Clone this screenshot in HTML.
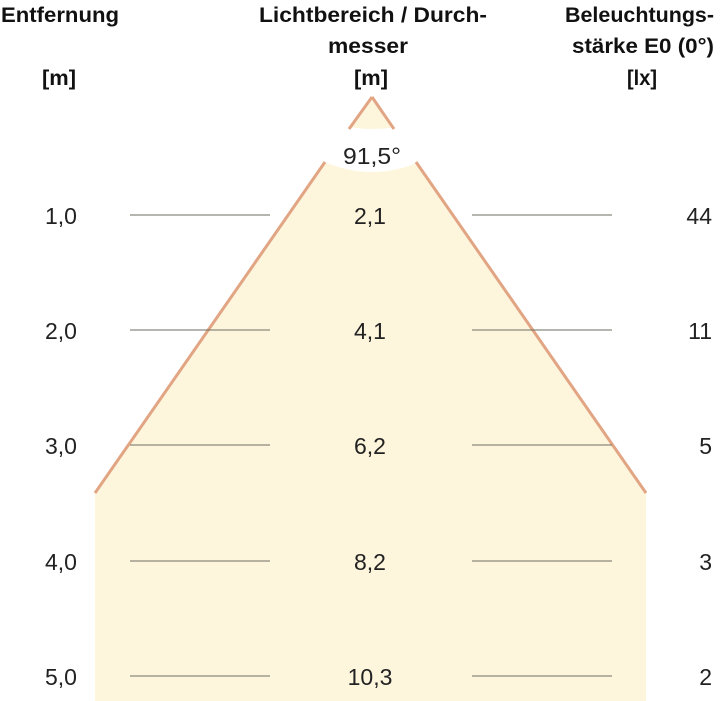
<!DOCTYPE html>
<html><head><meta charset="utf-8"><style>body{margin:0;background:#fff}svg{display:block}</style></head>
<body>
<svg width="720" height="701" xmlns="http://www.w3.org/2000/svg" font-family="Liberation Sans, Arial, sans-serif">
<polygon points="372,97 95,493 95,701 646,701 646,493" fill="#fdf5dc"/>
<path d="M320,119 Q372,139 424,119 L424,160 Q372,184 320,160 Z" fill="#fff"/>
<g stroke="#e2a584" stroke-width="3" fill="none">
<line x1="372" y1="97" x2="349" y2="129"/>
<line x1="372" y1="97" x2="394" y2="129"/>
<line x1="325" y1="162" x2="95" y2="493"/>
<line x1="416" y1="162" x2="646" y2="493"/>
</g>
<g stroke="#6e6e62" stroke-width="1">
<line x1="130" y1="215" x2="270" y2="215"/><line x1="472" y1="215" x2="612" y2="215"/>
<line x1="130" y1="330" x2="270" y2="330"/><line x1="472" y1="330" x2="612" y2="330"/>
<line x1="130" y1="445" x2="270" y2="445"/><line x1="472" y1="445" x2="612" y2="445"/>
<line x1="130" y1="561" x2="270" y2="561"/><line x1="472" y1="561" x2="612" y2="561"/>
<line x1="130" y1="676" x2="270" y2="676"/><line x1="472" y1="676" x2="612" y2="676"/>
</g>
<g font-weight="bold" font-size="21" fill="#111">
<text x="1" y="22" textLength="118" lengthAdjust="spacingAndGlyphs">Entfernung</text>
<text x="42" y="85" textLength="34" lengthAdjust="spacingAndGlyphs">[m]</text>
<text x="259" y="22" textLength="228" lengthAdjust="spacingAndGlyphs">Lichtbereich / Durch-</text>
<text x="328" y="53" textLength="80" lengthAdjust="spacingAndGlyphs">messer</text>
<text x="354" y="85" textLength="34" lengthAdjust="spacingAndGlyphs">[m]</text>
<text x="565" y="22" textLength="149" lengthAdjust="spacingAndGlyphs">Beleuchtungs-</text>
<text x="572" y="53" textLength="142" lengthAdjust="spacingAndGlyphs">stärke E0 (0°)</text>
<text x="627" y="85" textLength="30" lengthAdjust="spacingAndGlyphs">[lx]</text>
</g>
<g font-size="23" fill="#222">
<text x="372" y="164" text-anchor="middle" textLength="58" lengthAdjust="spacingAndGlyphs">91,5°</text>
<text x="61" y="224" text-anchor="middle">1,0</text><text x="370" y="224" text-anchor="middle">2,1</text><text x="712" y="224" text-anchor="end">44</text>
<text x="61" y="339" text-anchor="middle">2,0</text><text x="370" y="339" text-anchor="middle">4,1</text><text x="712" y="339" text-anchor="end">11</text>
<text x="61" y="454" text-anchor="middle">3,0</text><text x="370" y="454" text-anchor="middle">6,2</text><text x="712" y="454" text-anchor="end">5</text>
<text x="61" y="570" text-anchor="middle">4,0</text><text x="370" y="570" text-anchor="middle">8,2</text><text x="712" y="570" text-anchor="end">3</text>
<text x="61" y="685" text-anchor="middle">5,0</text><text x="370" y="685" text-anchor="middle">10,3</text><text x="712" y="685" text-anchor="end">2</text>
</g>
</svg>
</body></html>
